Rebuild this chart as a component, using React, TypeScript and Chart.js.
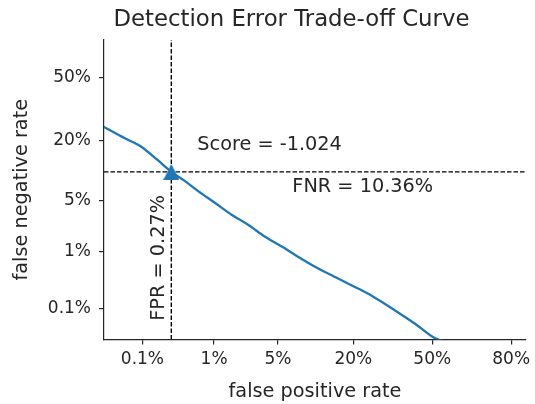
import React, { useEffect, useRef } from 'react';
import { Chart, registerables } from 'chart.js';

Chart.register(...registerables);

// DET curve samples (rates, 0..1)
const fprValues = [
  0.000228, 0.000514, 0.000946, 0.00168, 0.0027, 0.00424, 0.00635, 0.0103,
  0.0162, 0.0248, 0.037, 0.0575, 0.0755, 0.1103, 0.1473, 0.1913, 0.2429,
  0.3015, 0.3917, 0.4329, 0.5028, 0.5505,
];
const fnrValues = [
  0.255, 0.209, 0.1783, 0.1358, 0.1036, 0.0824, 0.0639, 0.0467,
  0.0333, 0.0245, 0.0168, 0.0113, 0.0084, 0.00545, 0.00392, 0.0028, 0.00199,
  0.00129, 0.000655, 0.000477, 0.000262, 0.000208,
];

// Operating point
const opFPR = 0.0027;
const opFNR = 0.1036;
const opScore = -1.024;

// Ticks
const xTickRates = [0.001, 0.01, 0.05, 0.2, 0.5, 0.8];
const xTickLabels = ['0.1%', '1%', '5%', '20%', '50%', '80%'];
const yTickRates = [0.001, 0.01, 0.05, 0.2, 0.5];
const yTickLabels = ['0.1%', '1%', '5%', '20%', '50%'];

// Axis limits in normal-deviate units
const xLimits = [-3.5, 1.0];
const yLimits = [-3.5, 0.5];

const TITLE = 'Detection Error Trade-off Curve';
const TEXT = '#262626';
const BLUE = '#1f77b4';
const FONT = '"DejaVu Sans", sans-serif';

// Inverse standard normal CDF (Acklam)
function probit(p: number): number {
  const a = [-3.969683028665376e1, 2.209460984245205e2, -2.759285104469687e2, 1.38357751867269e2, -3.066479806614716e1, 2.506628277459239];
  const b = [-5.447609879822406e1, 1.615858368580409e2, -1.556989798598866e2, 6.680131188771972e1, -1.328068155288572e1];
  const c = [-7.784894002430293e-3, -3.223964580411365e-1, -2.400758277161838, -2.549732539343734, 4.374664141464968, 2.938163982698783];
  const d = [7.784695709041462e-3, 3.224671290700398e-1, 2.445134137142996, 3.754408661907416];
  const pl = 0.02425;
  if (p < pl) {
    const q = Math.sqrt(-2 * Math.log(p));
    return (((((c[0] * q + c[1]) * q + c[2]) * q + c[3]) * q + c[4]) * q + c[5]) /
      ((((d[0] * q + d[1]) * q + d[2]) * q + d[3]) * q + 1);
  }
  if (p > 1 - pl) {
    const q = Math.sqrt(-2 * Math.log(1 - p));
    return -(((((c[0] * q + c[1]) * q + c[2]) * q + c[3]) * q + c[4]) * q + c[5]) /
      ((((d[0] * q + d[1]) * q + d[2]) * q + d[3]) * q + 1);
  }
  const q = p - 0.5;
  const r = q * q;
  return (((((a[0] * r + a[1]) * r + a[2]) * r + a[3]) * r + a[4]) * r + a[5]) * q /
    (((((b[0] * r + b[1]) * r + b[2]) * r + b[3]) * r + b[4]) * r + 1);
}

function makeTriangle(size: number, color: string): HTMLCanvasElement {
  const cv = document.createElement('canvas');
  cv.width = size;
  cv.height = size;
  const c = cv.getContext('2d')!;
  c.fillStyle = color;
  c.beginPath();
  c.moveTo(size / 2, 0);
  c.lineTo(size, size);
  c.lineTo(0, size);
  c.closePath();
  c.fill();
  return cv;
}

const annotationPlugin = {
  id: 'detAnnotations',
  afterDatasetsDraw(chart: any) {
    const { ctx, scales, chartArea } = chart;
    const px = scales.x.getPixelForValue(probit(opFPR));
    const py = scales.y.getPixelForValue(probit(opFNR));
    ctx.save();
    ctx.fillStyle = TEXT;
    ctx.textBaseline = 'middle';
    // title
    ctx.font = `22.8px ${FONT}`;
    ctx.textAlign = 'center';
    ctx.fillText(TITLE, chartArea.left + 187.4, chartArea.top - 20);
    // annotations
    ctx.font = `19.3px ${FONT}`;
    ctx.textAlign = 'left';
    ctx.fillText(`Score = ${opScore.toFixed(3)}`, px + 26, py - 27);
    ctx.fillText(`FNR = ${(opFNR * 100).toFixed(2)}%`, px + 121, py + 15);
    ctx.translate(px - 12, py + 86);
    ctx.rotate(-Math.PI / 2);
    ctx.textAlign = 'center';
    ctx.fillText(`FPR = ${(opFPR * 100).toFixed(2)}%`, 0, 0);
    ctx.restore();
  },
};

export default function App() {
  const ref = useRef<HTMLCanvasElement | null>(null);

  useEffect(() => {
    if (!ref.current) return;
    const curve = fprValues.map((f, i) => ({ x: probit(f), y: probit(fnrValues[i]) }));
    const ox = probit(opFPR);
    const oy = probit(opFNR);
    const tri = makeTriangle(16, BLUE);

    const chart = new Chart(ref.current, {
      type: 'line',
      data: {
        datasets: [
          {
            label: 'operating point',
            data: [{ x: ox, y: oy }],
            showLine: false,
            pointStyle: tri,
            pointRadius: 8,
          },
          {
            label: 'vline',
            data: [{ x: ox, y: yLimits[0] }, { x: ox, y: yLimits[1] }],
            borderColor: '#000',
            borderWidth: 1.4,
            borderDash: [4.5, 2],
            pointRadius: 0,
          },
          {
            label: 'hline',
            data: [{ x: xLimits[0], y: oy }, { x: xLimits[1], y: oy }],
            borderColor: '#000',
            borderWidth: 1.4,
            borderDash: [4.5, 2],
            pointRadius: 0,
          },
          {
            label: 'DET',
            data: curve,
            borderColor: BLUE,
            borderWidth: 2.3,
            pointRadius: 0,
            cubicInterpolationMode: 'monotone',
          },
        ],
      },
      options: {
        animation: false,
        responsive: false,
        maintainAspectRatio: false,
        layout: { padding: { left: 0, right: 4.3, top: 40, bottom: 0 } },
        plugins: {
          legend: { display: false },
          tooltip: { enabled: false },
          title: { display: false },
        },
        scales: {
          x: {
            type: 'linear',
            min: xLimits[0],
            max: xLimits[1],
            afterBuildTicks: (s: any) => {
              s.ticks = xTickRates.map((r) => ({ value: probit(r) }));
            },
            afterFit: (s: any) => {
              s.height = 404 - 339.4;
              s.paddingLeft = 0;
              s.paddingRight = 0;
            },
            ticks: {
              autoSkip: false,
              maxRotation: 0,
              padding: 5,
              color: TEXT,
              font: { family: FONT, size: 17 },
              callback: (_v: any, i: number) => xTickLabels[i],
            },
            grid: { drawOnChartArea: false, drawTicks: true, tickLength: 5, color: TEXT, lineWidth: 1.2 },
            border: { display: true, color: TEXT, width: 1.2 },
            title: {
              display: true,
              text: 'false positive rate',
              color: TEXT,
              font: { family: FONT, size: 19.3 },
              padding: { top: 0, bottom: 0.7 },
            },
          },
          y: {
            type: 'linear',
            min: yLimits[0],
            max: yLimits[1],
            afterBuildTicks: (s: any) => {
              s.ticks = yTickRates.map((r) => ({ value: probit(r) }));
            },
            afterFit: (s: any) => {
              s.width = 104;
              s.paddingTop = 0;
              s.paddingBottom = 0;
            },
            ticks: {
              autoSkip: false,
              padding: 8,
              color: TEXT,
              font: { family: FONT, size: 17 },
              callback: (_v: any, i: number) => yTickLabels[i],
            },
            grid: { drawOnChartArea: false, drawTicks: true, tickLength: 5, color: TEXT, lineWidth: 1.2 },
            border: { display: true, color: TEXT, width: 1.2 },
            title: {
              display: true,
              text: 'false negative rate',
              color: TEXT,
              font: { family: FONT, size: 19.3 },
              padding: { top: 10, bottom: 0 },
            },
          },
        },
      },
      plugins: [annotationPlugin],
    } as any);

    return () => chart.destroy();
  }, []);

  return (
    <div style={{ position: 'absolute', left: 0, top: 0, width: 535, height: 404, background: '#fff' }}>
      <canvas ref={ref} width={535} height={404} style={{ display: 'block' }} />
    </div>
  );
}
